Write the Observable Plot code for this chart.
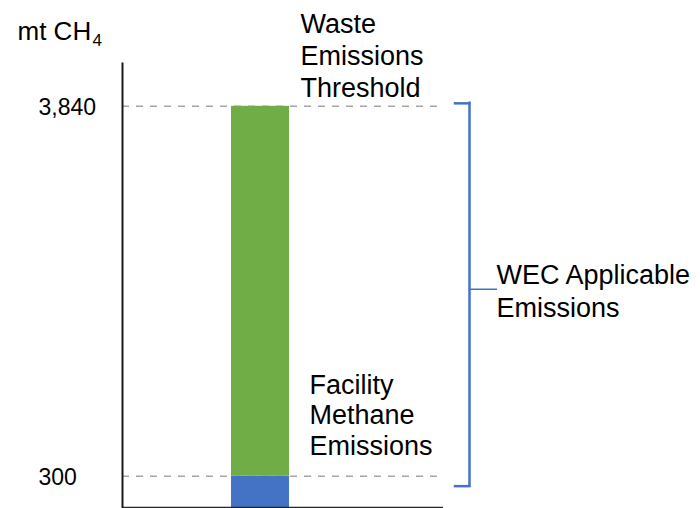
<!DOCTYPE html>
<html><head><meta charset="utf-8">
<script src="https://cdn.jsdelivr.net/npm/d3@7"></script>
<script src="https://cdn.jsdelivr.net/npm/@observablehq/plot@0.6"></script>
<style>html,body{margin:0;padding:0;background:#fff;} svg{display:block}</style>
</head><body><div id="chart"></div>
<script>
// ---- data ----
const categories = ["Facility"];
const segmentNames = ["Facility Methane Emissions", "Waste Emissions Threshold"];
const segmentLabels = ["Facility\nMethane\nEmissions", "Waste\nEmissions\nThreshold"];
const segmentValues = [300, 3540];            // stacked: 0–300 and 300–3,840
const segmentColors = ["#4472c4", "#70ad47"];
const tickValues = [300, 3840];
const yUnit = "mt CH";
const yUnitSub = "4";
const bracketLabel = "WEC Applicable\nEmissions";
const yMax = 4250;

// ---- derived ----
const tops = d3.cumsum(segmentValues);
const rows = segmentNames.map((name, i) => ({cat: categories[0], name, value: segmentValues[i], top: tops[i], label: segmentLabels[i]}));
const bracket = {cat: categories[0], low: tops[0], high: tops[1], mid: (tops[0] + tops[1]) / 2, label: bracketLabel};
const blue = "#4472c4";

const chart = Plot.plot({
  width: 700, height: 508,
  marginTop: 63, marginRight: 257, marginBottom: 1, marginLeft: 122,
  style: {fontFamily: "'Liberation Sans', Arial, sans-serif", background: "#fff", color: "#000"},
  x: {domain: categories, padding: 0.694, align: 0.414, axis: null},
  y: {domain: [0, yMax], axis: null},
  color: {domain: segmentNames, range: segmentColors},
  marks: [
    Plot.ruleY(tickValues, {stroke: "#a6a6a6", strokeWidth: 1.5, strokeDasharray: "7,7"}),
    Plot.barY(rows, {x: "cat", y: "value", fill: "name"}),
    Plot.ruleY([0], {stroke: "#262626", strokeWidth: 1.5}),
    Plot.frame({anchor: "left", stroke: "#1a1a1a", strokeWidth: 2}),
    // tick labels
    Plot.text(tickValues, {y: d => d, text: d => d3.format(",")(d), frameAnchor: "left", textAnchor: "start", dx: -84, dy: 1, fontSize: 23}),
    // unit label
    Plot.text([yUnit], {frameAnchor: "top-left", text: d => d, textAnchor: "start", lineAnchor: "bottom", dx: -105, dy: -23.5, fontSize: 26}),
    Plot.text([yUnitSub], {frameAnchor: "top-left", text: d => d, textAnchor: "start", lineAnchor: "bottom", dx: -30, dy: -18, fontSize: 17}),
    // segment labels
    Plot.text(rows.slice(1), {x: "cat", y: "top", text: "label", textAnchor: "start", lineAnchor: "bottom", lineHeight: 1.2, dx: 40, dy: -9, fontSize: 27}),
    Plot.text(rows.slice(0, 1), {x: "cat", y: "top", text: "label", textAnchor: "start", lineAnchor: "bottom", lineHeight: 1.13, dx: 49, dy: -21.4, fontSize: 27}),
    // bracket
    Plot.ruleX([bracket], {x: "cat", y1: "high", y2: "low", dx: 209, insetTop: -3, insetBottom: -10, stroke: blue, strokeWidth: 2.5, strokeLinecap: "square"}),
    Plot.ruleY([bracket], {y: "high", insetLeft: 333, insetRight: -26, dy: -3, stroke: blue, strokeWidth: 2.5, strokeLinecap: "square"}),
    Plot.ruleY([bracket], {y: "low", insetLeft: 333, insetRight: -26, dy: 10, stroke: blue, strokeWidth: 2.5, strokeLinecap: "square"}),
    Plot.ruleY([bracket], {y: "mid", insetLeft: 347, insetRight: -54, dy: -2, stroke: blue, strokeWidth: 1.5}),
    Plot.text([bracket], {y: "mid", text: "label", frameAnchor: "right", textAnchor: "start", lineAnchor: "bottom", lineHeight: 1.2, dx: 53, dy: 25.3, fontSize: 27})
  ]
});
document.getElementById("chart").appendChild(chart);
</script>
</body></html>
